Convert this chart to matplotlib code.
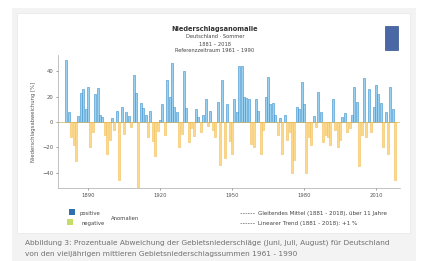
import matplotlib
matplotlib.use("Agg")
import matplotlib.pyplot as plt
from matplotlib.patches import Rectangle
from matplotlib.lines import Line2D

# Sommerniederschlag Deutschland, Abweichung vom Mittel 1961-1990 in %
years = list(range(1881, 2019))
anomaly = [
    49, 8, -12, -18, -31, 5, 23, 26, 10, 28,          # 1881-1890
    -20, -8, 22, 27, 6, 4, -10, -25, -14, 3,          # 1891-1900
    -6, 9, -46, 12, -9, 8, 5, -4, 37, 23,             # 1901-1910
    -54, 15, 11, 6, -12, 9, -15, -27, -7, 2,          # 1911-1920
    14, -10, 33, 20, 47, 12, 8, -20, -9, 40,          # 1921-1930
    11, -16, -5, -11, 10, 4, -8, 6, 18, -3,           # 1931-1940
    9, -6, -12, 16, -34, 33, -28, 14, -15, -25,       # 1941-1950
    18, 8, 44, 44, 20, 19, 18, -17, -20, 18,          # 1951-1960
    9, -25, -6, 20, 36, 14, 15, 6, -10, 3,            # 1961-1970
    -25, 6, -14, -8, -40, -30, 12, 10, 32, 14,        # 1971-1980
    -40, -12, -18, 5, -4, 24, 8, -16, -10, -12,       # 1981-1990
    -18, 18, -6, -20, -14, 4, 7, -8, -5, 6,           # 1991-2000
    28, 16, -35, -10, 35, -12, 26, -8, 12, 29,        # 2001-2010
    22, 15, -20, 8, -25, 28, 10, -46,                 # 2011-2018
]
xticks = [1890, 1920, 1950, 1980, 2010]
yticks = [-40, -20, 0, 20, 40]

W, H = 421, 261
fig = plt.figure(figsize=(W / 100, H / 100), dpi=100)
fig.patch.set_facecolor("white")

def px(x0, y0, x1, y1):
    # pixel box (top-left origin) -> figure fractions
    return (x0 / W, 1 - y1 / H, (x1 - x0) / W, (y1 - y0) / H)

r = px(12, 8, 416, 261)
fig.patches.append(Rectangle(r[:2], r[2], r[3], transform=fig.transFigure,
                             facecolor="#f3f3f3", edgecolor="none", zorder=-3))
r = px(17, 13, 410, 233)
fig.patches.append(Rectangle(r[:2], r[2], r[3], transform=fig.transFigure,
                             facecolor="white", edgecolor="#e6e6e6", lw=0.5, zorder=-2))
# logo
r = px(385, 26, 398, 50)
fig.patches.append(Rectangle(r[:2], r[2], r[3], transform=fig.transFigure,
                             facecolor="#4a68a6", edgecolor="#33508c", lw=0.5, zorder=1))

ax = fig.add_axes(px(58, 55, 400, 188))
ax.set_zorder(2)
ax.patch.set_alpha(0)
pos_c = ["#9ad0f0" if v >= 0 else "#fbd88a" for v in anomaly]
edge_c = ["#3b8fcc" if v >= 0 else "#f3c05a" for v in anomaly]
ax.bar(years, anomaly, width=0.85, color=pos_c, edgecolor=edge_c, linewidth=0.4)
ax.axhline(0, color="#d9b45a", lw=0.5)

ax.set_xlim(1877.5, 2020)
ax.set_ylim(-52, 53)
ax.set_xticks(xticks)
ax.set_yticks(yticks)
ax.tick_params(labelsize=3.8, colors="#555555", length=1.5, width=0.4, pad=2)
for s in ["top", "right"]:
    ax.spines[s].set_visible(False)
for s in ["left", "bottom"]:
    ax.spines[s].set_color("#aaaaaa")
    ax.spines[s].set_linewidth(0.5)
ax.set_ylabel("Niederschlagsabweichung [%]", fontsize=3.8, color="#555555", labelpad=4)

# titles
fig.text(215 / W, 1 - 29 / H, "Niederschlagsanomalie", ha="center", va="center",
         fontsize=4.8, fontweight="bold", color="#333333")
fig.text(215 / W, 1 - 37 / H, "Deutschland · Sommer", ha="center", va="center",
         fontsize=3.7, color="#444444")
fig.text(215 / W, 1 - 44 / H, "1881 – 2018", ha="center", va="center",
         fontsize=3.7, color="#444444")
fig.text(215 / W, 1 - 51 / H, "Referenzzeitraum 1961 – 1990", ha="center", va="center",
         fontsize=3.7, color="#444444")

# legend left
for (x0, y0, fc) in [(69, 209, "#2e6fb0"), (67, 219, "#c6dc6a")]:
    r = px(x0, y0, x0 + 6, y0 + 6)
    fig.patches.append(Rectangle(r[:2], r[2], r[3], transform=fig.transFigure,
                                 facecolor=fc, edgecolor="none", zorder=2))
fig.text(79 / W, 1 - 213 / H, "positive", fontsize=3.8, va="center", color="#444444")
fig.text(81 / W, 1 - 223 / H, "negative", fontsize=3.8, va="center", color="#444444")
fig.text(111 / W, 1 - 218 / H, "Anomalien", fontsize=3.8, va="center", color="#444444")

# legend right (trend lines)
fig.add_artist(Line2D([240 / W, 255 / W], [1 - 213 / H] * 2, transform=fig.transFigure,
                      color="#888888", lw=0.6, ls=(0, (2, 1))))
fig.add_artist(Line2D([240 / W, 255 / W], [1 - 223 / H] * 2, transform=fig.transFigure,
                      color="#888888", lw=0.6, ls=(0, (2, 1))))
fig.text(258 / W, 1 - 213 / H, "Gleitendes Mittel (1881 - 2018), über 11 Jahre",
         fontsize=4.1, va="center", color="#444444")
fig.text(258 / W, 1 - 223 / H, "Linearer Trend (1881 - 2018): +1 %",
         fontsize=4.1, va="center", color="#444444")

# caption
fig.text(25 / W, 1 - 243 / H,
         "Abbildung 3: Prozentuale Abweichung der Gebietsniederschläge (Juni, Juli, August) für Deutschland",
         fontsize=5.3, va="center", color="#707070")
fig.text(25 / W, 1 - 254 / H,
         "von den vieljährigen mittleren Gebietsniederschlagssummen 1961 - 1990",
         fontsize=5.3, va="center", color="#707070")

fig.savefig("out.png", dpi=100)
